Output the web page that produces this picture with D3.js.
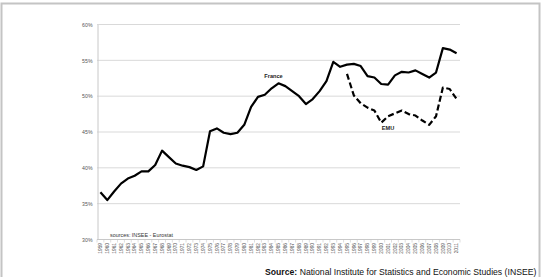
<!DOCTYPE html>
<html>
<head>
<meta charset="utf-8">
<script src="https://cdn.jsdelivr.net/npm/d3@7"></script>
<style>
  html, body { margin: 0; padding: 0; background: #fff; }
  svg { display: block; }
</style>
</head>
<body>
<div id="chart"></div>
<script>
// data
const years = d3.range(1959, 2012).map(String);
const franceValues = [
  36.6, 35.5, 36.7, 37.8, 38.5, 38.9, 39.5, 39.5, 40.4, 42.4,
  41.5, 40.6, 40.3, 40.1, 39.7, 40.2, 45.1, 45.5, 44.9, 44.7,
  44.9, 46.0, 48.5, 49.9, 50.2, 51.1, 51.8, 51.4, 50.7, 50.0,
  48.9, 49.6, 50.7, 52.1, 54.8, 54.1, 54.4, 54.5, 54.2, 52.8,
  52.6, 51.7, 51.6, 52.9, 53.4, 53.3, 53.6, 53.1, 52.6, 53.3,
  56.7, 56.5, 56.0
];
const emuYears = d3.range(1995, 2012).map(String);
const emuValues = [
  53.1, 50.1, 49.0, 48.4, 48.0, 46.3, 47.2, 47.6, 48.0, 47.5,
  47.3, 46.6, 46.0, 47.2, 51.2, 51.0, 49.6
];
const yTicks = [30, 35, 40, 45, 50, 55, 60];

const width = 545, height = 277;
const svg = d3.select('#chart').append('svg')
  .attr('width', width).attr('height', height);

// outer frame
svg.append('rect')
  .attr('x', 1.5).attr('y', 3.5).attr('width', 538).attr('height', 290)
  .attr('fill', '#fff').attr('stroke', '#c4c4c4').attr('stroke-width', 2);

const x = d3.scaleBand().domain(years).range([97, 460]).padding(0);
const y = d3.scaleLinear().domain([30, 60]).range([239.5, 24.5]);
const cx = d => x(d) + x.bandwidth() / 2;

const font = '"Liberation Sans", Arial, sans-serif';

// gridlines
svg.append('g').selectAll('line').data(yTicks).join('line')
  .attr('x1', 97).attr('x2', 460)
  .attr('y1', d => y(d)).attr('y2', d => y(d))
  .attr('stroke', d => d === 30 ? '#c8c8c8' : '#d9d9d9').attr('stroke-width', 1);

// y axis
const yAxis = svg.append('g').attr('transform', 'translate(97.5,0)')
  .call(d3.axisLeft(y).tickValues(yTicks).tickSize(0).tickPadding(5)
    .tickFormat(d => d + '%'));
yAxis.select('.domain').attr('stroke', '#c8c8c8');
yAxis.selectAll('text').attr('fill', '#555').attr('font-size', 5.2)
  .attr('font-family', font);

// x axis
const xAxis = svg.append('g').attr('transform', 'translate(0,239.5)')
  .call(d3.axisBottom(x).tickSize(0));
xAxis.select('.domain').remove();
xAxis.selectAll('.tick line').remove();
xAxis.selectAll('text')
  .attr('fill', '#555').attr('font-size', 4.8).attr('font-family', font)
  .attr('transform', 'rotate(-90)')
  .attr('x', -3.5).attr('y', 0).attr('dy', '0.35em')
  .style('text-anchor', 'end');

// x tick marks at band edges
svg.append('g').selectAll('line').data(years.concat(['end'])).join('line')
  .attr('x1', d => d === 'end' ? 460 : x(d))
  .attr('x2', d => d === 'end' ? 460 : x(d))
  .attr('y1', 239.5).attr('y2', 242.5)
  .attr('stroke', '#c8c8c8').attr('stroke-width', 0.6);

const line = d3.line().x(d => cx(d[0])).y(d => y(d[1]));

svg.append('path')
  .datum(d3.zip(emuYears, emuValues))
  .attr('d', line)
  .attr('fill', 'none').attr('stroke', '#000').attr('stroke-width', 2.2)
  .attr('stroke-dasharray', '6,3').attr('stroke-linejoin', 'round');

svg.append('path')
  .datum(d3.zip(years, franceValues))
  .attr('d', line)
  .attr('fill', 'none').attr('stroke', '#000').attr('stroke-width', 2.2)
  .attr('stroke-linejoin', 'round');

// series labels
svg.append('text').attr('x', 273.5).attr('y', 78)
  .attr('text-anchor', 'middle').attr('font-size', 5.6).attr('font-weight', 'bold')
  .attr('font-family', font).attr('fill', '#222').text('France');
svg.append('text').attr('x', 388).attr('y', 130)
  .attr('text-anchor', 'middle').attr('font-size', 5.6).attr('font-weight', 'bold')
  .attr('font-family', font).attr('fill', '#222').text('EMU');

svg.append('text').attr('x', 110).attr('y', 237)
  .attr('font-size', 5.4).attr('font-family', font).attr('fill', '#333')
  .text('sources: INSEE - Eurostat');

// source caption at the bottom edge
const src = svg.append('text').attr('x', 265).attr('y', 274.5)
  .attr('font-size', 10).attr('font-family', font).attr('fill', '#111');
src.append('tspan').attr('font-weight', 'bold').text('Source:');
src.append('tspan').text(' National Institute for Statistics and Economic Studies (INSEE)');
const w = src.node().getComputedTextLength();
src.attr('font-size', 10 * 272 / w);
</script>
</body>
</html>
